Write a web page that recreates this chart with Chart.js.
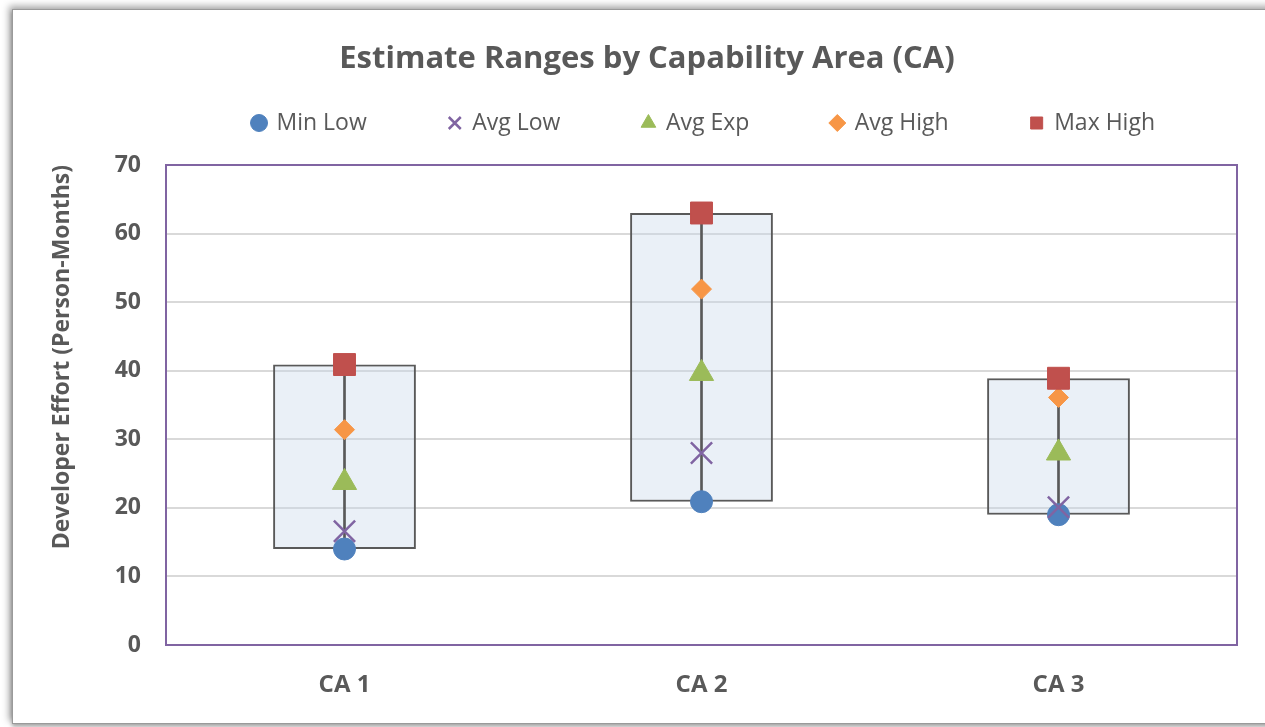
<!DOCTYPE html>
<html>
<head>
<meta charset="utf-8">
<script src="https://cdn.jsdelivr.net/npm/chart.js@4"></script>
<style>
  html, body { margin: 0; padding: 0; background: #fff; overflow: hidden; }
  .frame {
    position: absolute; left: 12px; top: 9px; width: 1300px; height: 713px;
    border: 1px solid #9a9a9a; background: #fff;
    box-shadow: -3px -3px 7px rgba(0,0,0,0.35), 0 3px 4px rgba(0,0,0,0.3);
  }
  .wrap { position: absolute; left: 0; top: 0; width: 1265px; height: 727px; }
</style>
</head>
<body>
<div class="frame"></div>
<div class="wrap"><canvas id="rangeChart"></canvas></div>
<script>
const categories = ['CA 1', 'CA 2', 'CA 3'];
const minLow  = [14, 20.9, 19];
const avgLow  = [16.6, 28, 20.1];
const avgExp  = [23.7, 39.6, 28];
const avgHigh = [31.4, 51.9, 36.1];
const maxHigh = [40.9, 63, 38.9];
const yMin = 0, yMax = 70, yStep = 10;

const grey = '#595959';
const font = 'Open Sans';

// box from min low to max high for each category
const ranges = categories.map((c, i) => [minLow[i], maxHigh[i]]);

const plotFrame = {
    id: 'plotFrame',
    beforeDatasetsDraw(chart) {
        const { ctx, chartArea: a } = chart;
        ctx.save();
        ctx.strokeStyle = '#8064A2';
        ctx.lineWidth = 2;
        ctx.strokeRect(a.left, a.top, a.width, a.height);
        ctx.restore();
    }
};

function marker(label, data, style, color, radius, order) {
    return {
        type: 'line',
        label: label,
        data: data,
        showLine: false,
        pointStyle: style,
        pointRadius: radius,
        pointHoverRadius: radius,
        pointBackgroundColor: color,
        pointBorderColor: color,
        pointBorderWidth: style === 'crossRot' ? 2.5 : 1,
        backgroundColor: color,
        borderColor: color,
        order: order
    };
}

new Chart(document.getElementById('rangeChart'), {
    type: 'bar',
    data: {
        labels: categories,
        datasets: [
            {
                label: 'Range',
                data: ranges,
                backgroundColor: 'rgba(200, 215, 235, 0.38)',
                borderColor: grey,
                borderWidth: 2,
                borderSkipped: false,
                grouped: false,
                barPercentage: 0.4,
                categoryPercentage: 1,
                order: 20
            },
            {
                label: 'HiLo',
                data: ranges,
                backgroundColor: grey,
                borderWidth: 0,
                grouped: false,
                barThickness: 2,
                order: 19
            },
            marker('Min Low', minLow, 'circle', '#4F81BD', 11, 9),
            marker('Avg Low', avgLow, 'crossRot', '#8064A2', 15, 8),
            marker('Avg Exp', avgExp, 'triangle', '#9BBB59', 14, 7),
            marker('Avg High', avgHigh, 'rectRot', '#F79646', 10, 6),
            marker('Max High', maxHigh, 'rect', '#C0504D', 15.5, 5)
        ]
    },
    options: {
        responsive: true,
        maintainAspectRatio: false,
        animation: false,
        layout: { padding: { left: 57, right: 28, top: 0, bottom: 0 } },
        plugins: {
            title: {
                display: true,
                text: 'Estimate Ranges by Capability Area (CA)',
                color: grey,
                font: { family: font, size: 31, weight: 'bold' },
                padding: { top: 40.4, bottom: -48.1 }
            },
            legend: {
                align: 'end',
                labels: {
                    usePointStyle: true,
                    boxWidth: 12,
                    boxHeight: 12,
                    padding: 82,
                    color: grey,
                    font: { family: font, size: 23 },
                    filter: item => item.datasetIndex >= 2,
                    sort: (a, b) => a.datasetIndex - b.datasetIndex
                }
            },
            tooltip: { enabled: false }
        },
        scales: {
            x: {
                offset: true,
                grid: { display: false },
                border: { display: false },
                ticks: {
                    color: grey,
                    padding: 18,
                    font: { family: font, size: 24, weight: 'bold' }
                },
                afterFit(scale) { scale.height = 82; }
            },
            // empty strip between legend and plot
            gap: {
                type: 'category',
                position: 'top',
                grid: { display: false },
                border: { display: false },
                ticks: { display: false },
                afterFit(scale) { scale.height = 20.5; }
            },
            y: {
                min: yMin,
                max: yMax,
                grid: { color: '#D9D9D9', lineWidth: 2, drawTicks: false },
                border: { display: false },
                ticks: {
                    stepSize: yStep,
                    color: grey,
                    padding: 25,
                    font: { family: font, size: 23, weight: 'bold' }
                },
                title: {
                    display: true,
                    text: 'Developer Effort (Person-Months)',
                    align: 'end',
                    color: grey,
                    font: { family: font, size: 23, weight: 'bold' },
                    padding: { top: -8.8, bottom: 0 }
                },
                afterFit(scale) { scale.width = 109; }
            }
        }
    },
    plugins: [plotFrame]
});
</script>
</body>
</html>
